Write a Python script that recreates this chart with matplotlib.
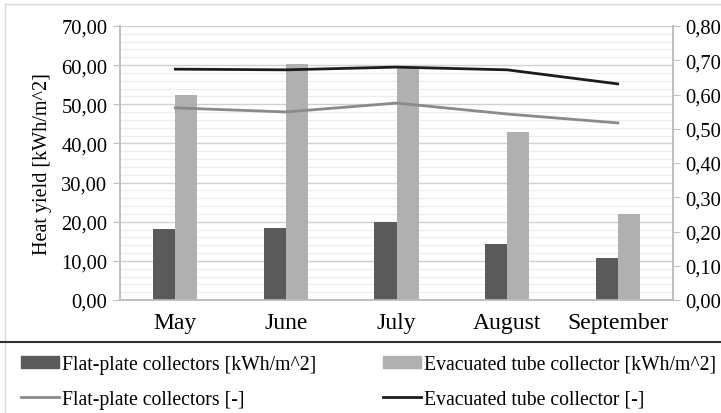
import matplotlib
matplotlib.use("Agg")
import matplotlib.pyplot as plt
import numpy as np
from matplotlib.lines import Line2D
from matplotlib.patches import Rectangle
from matplotlib.ticker import MultipleLocator, FuncFormatter

plt.rcParams["font.family"] = ["Liberation Serif", "DejaVu Serif"]

months = ["May", "June", "July", "August", "September"]
flat_yield = [18.1, 18.3, 20.0, 14.3, 10.7]
tube_yield = [52.4, 60.4, 59.5, 42.9, 22.0]
flat_eff = [0.561, 0.549, 0.575, 0.543, 0.517]
tube_eff = [0.674, 0.672, 0.680, 0.672, 0.631]

c_flat_bar = "#5a5a5a"
c_tube_bar = "#b0b0b0"
c_flat_line = "#8a8a8a"
c_tube_line = "#1c1c1c"
c_axis = "#bfbfbf"

fig = plt.figure(figsize=(7.21, 4.14), dpi=100)
ax = fig.add_axes([120 / 721, 1 - 301 / 414, 553 / 721, 274 / 414])
ax2 = ax.twinx()

x = np.arange(len(months))
w = 0.2
ax.bar(x - w / 2, flat_yield, w, color=c_flat_bar, zorder=3)
ax.bar(x + w / 2, tube_yield, w, color=c_tube_bar, zorder=3)
ax2.plot(x, flat_eff, color=c_flat_line, lw=2)
ax2.plot(x, tube_eff, color=c_tube_line, lw=2)

ax.set_xlim(-0.5, len(months) - 0.5)
ax.set_ylim(0, 70)
ax2.set_ylim(0, 0.8)
ax.yaxis.set_major_locator(MultipleLocator(10))
ax.yaxis.set_minor_locator(MultipleLocator(2))
ax2.yaxis.set_major_locator(MultipleLocator(0.1))
comma = lambda fmt: FuncFormatter(lambda v, _: (fmt % v).replace(".", ","))
ax.yaxis.set_major_formatter(comma("%.2f"))
ax2.yaxis.set_major_formatter(comma("%.2f"))

ax.grid(axis="y", which="major", color="#d0d0d0", lw=1, zorder=0)
ax.grid(axis="y", which="minor", color="#ececec", lw=0.8, zorder=0)
ax.set_axisbelow(True)

ax.set_xticks(x)
ax.set_xticklabels(months, fontsize=17)
ax.tick_params(axis="x", length=0, pad=9)
ax.tick_params(axis="y", which="major", length=5, color=c_axis, labelsize=14.8, pad=4)
ax.tick_params(axis="y", which="minor", length=0)
ax2.tick_params(axis="y", length=5, color=c_axis, labelsize=14.8, pad=4)

for a in (ax, ax2):
    a.spines["top"].set_visible(False)
    for s in ("left", "right", "bottom"):
        a.spines[s].set_color(c_axis)
        a.spines[s].set_linewidth(1.2)

ax.set_ylabel("Heat yield [kWh/m^2]", fontsize=14.5, labelpad=7)

# outer chart border and legend separator
fig.patches.append(Rectangle((5 / 721, -0.1), 1.2, 1 - 5 / 414 + 0.1, transform=fig.transFigure,
                             fill=False, edgecolor="#d9d9d9", lw=1))
fig.lines.append(Line2D([0, 1], [1 - 343 / 414] * 2, transform=fig.transFigure,
                        color="#303030", lw=1.5))

# column-major order so bars sit on the first row
handles = [
    Rectangle((0, 0), 1, 1, color=c_flat_bar),
    Line2D([], [], color=c_flat_line, lw=2),
    Rectangle((0, 0), 1, 1, color=c_tube_bar),
    Line2D([], [], color=c_tube_line, lw=2),
]
labels = [
    "Flat-plate collectors [kWh/m^2]",
    "Flat-plate collectors [-]",
    "Evacuated tube collector [kWh/m^2]",
    "Evacuated tube collector [-]",
]
fig.legend(handles, labels, ncol=2, loc="upper left", bbox_to_anchor=(13 / 721, 1 - 348 / 414),
           frameon=False, fontsize=14.2, handlelength=1.95, handleheight=0.55, handletextpad=0.12,
           columnspacing=3.4, labelspacing=0.8, borderaxespad=0)

fig.savefig("out.png", dpi=100)
